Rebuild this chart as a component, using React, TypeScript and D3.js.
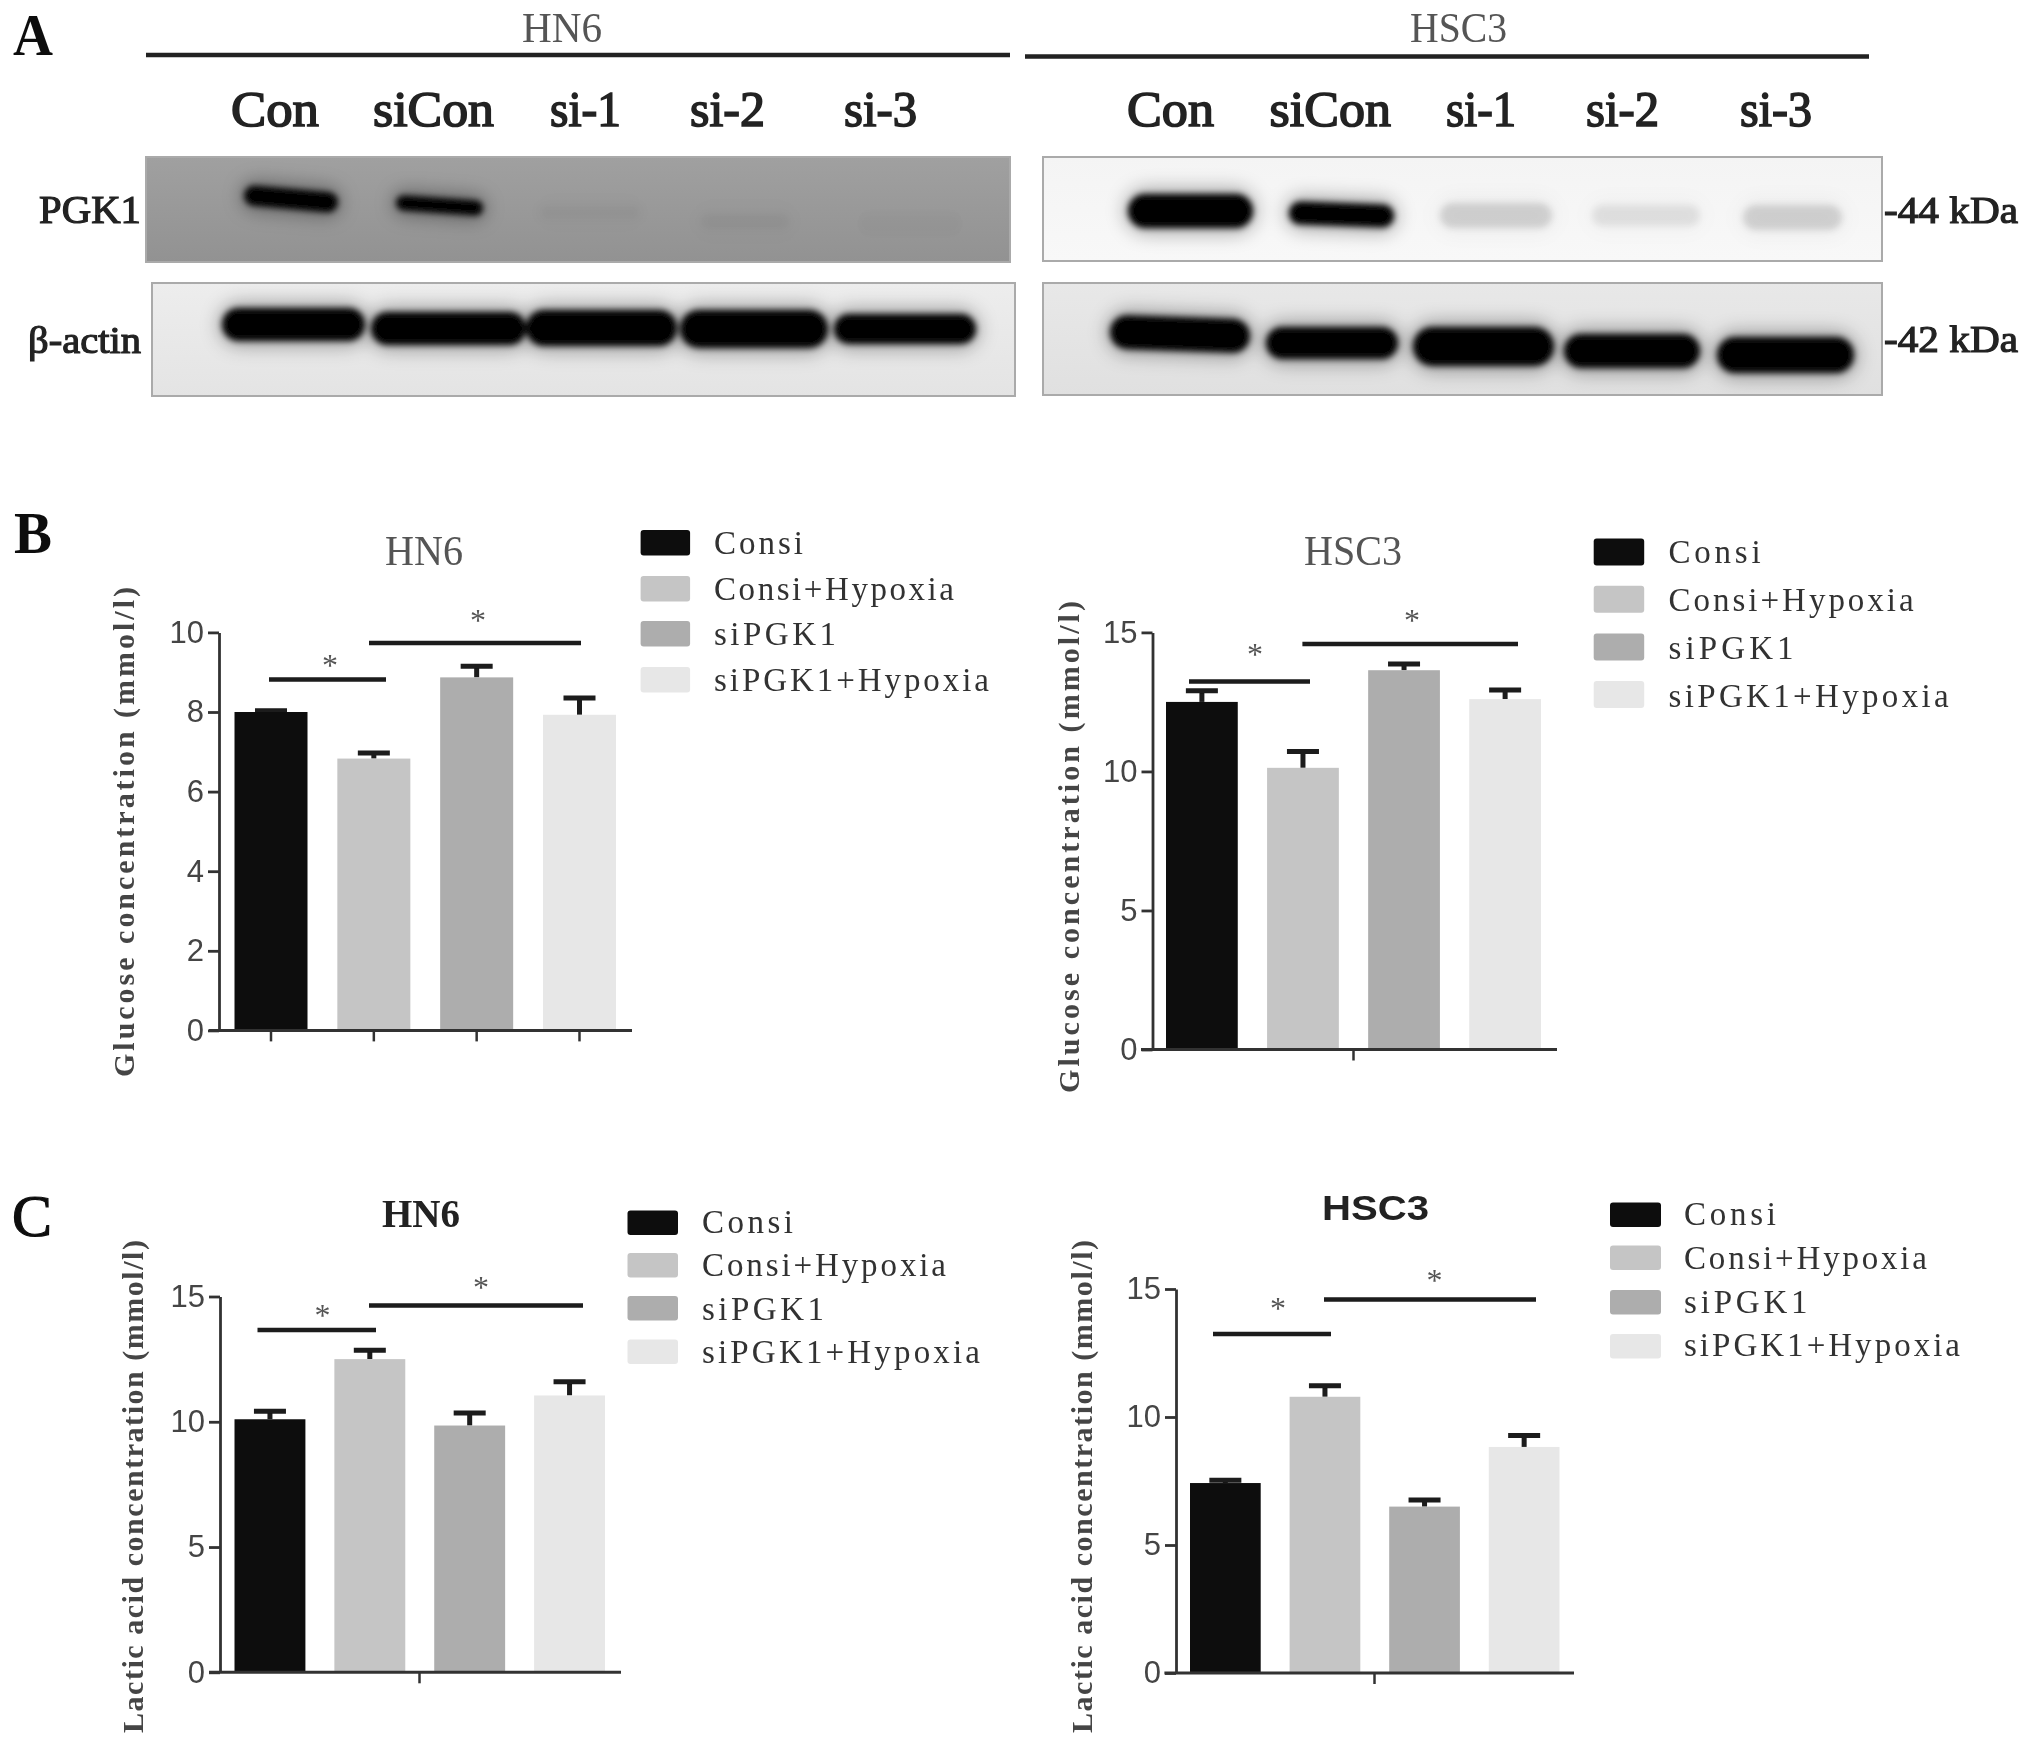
import React, { useEffect, useRef } from 'react';
import * as d3 from 'd3';

const groups = ['Consi', 'Consi+Hypoxia', 'siPGK1', 'siPGK1+Hypoxia'];
const barFills = ['#0e0e0e', '#c5c5c5', '#adadad', '#e7e7e7'];
const lanes = ['Con', 'siCon', 'si-1', 'si-2', 'si-3'];

const glucoseHN6 = [8.0, 6.83, 8.87, 7.93];
const glucoseHN6Upper = [8.03, 6.97, 9.15, 8.35];
const glucoseHSC3 = [12.5, 10.13, 13.64, 12.6];
const glucoseHSC3Upper = [12.9, 10.72, 13.86, 12.93];
const lacticHN6 = [10.1, 12.5, 9.85, 11.05];
const lacticHN6Upper = [10.42, 12.85, 10.35, 11.6];
const lacticHSC3 = [7.42, 10.79, 6.5, 8.83];
const lacticHSC3Upper = [7.53, 11.22, 6.76, 9.28];

const ticks10 = [0, 2, 4, 6, 8, 10];
const ticks15 = [0, 5, 10, 15];

const densityPGK1HN6 = [1, 1, 0.03, 0.035, 0.015];
const densityPGK1HSC3 = [1, 1, 0.13, 0.08, 0.13];
const densityActinHN6 = [1, 1, 1, 1, 1];
const densityActinHSC3 = [1, 1, 1, 1, 1];

const SERIF = '"Liberation Serif", serif';
const SANS = '"Liberation Sans", sans-serif';
const NARROW = '"Liberation Sans Narrow", "Liberation Sans", sans-serif';

type TP = { x: number; y: number; w?: number; size: number; fill?: string; bold?: boolean; semi?: number; spacing?: boolean; font?: string; rot?: boolean; children: string };
function T({ x, y, w, size, fill = '#222', bold, semi, spacing, font = SERIF, rot, children }: TP) {
  return (
    <text x={x} y={y} fontSize={size} fill={fill} fontFamily={font} fontWeight={bold ? 700 : 400}
      stroke={semi ? fill : undefined} strokeWidth={semi}
      textLength={w} lengthAdjust={w ? (spacing ? 'spacing' : 'spacingAndGlyphs') : undefined}
      transform={rot ? `rotate(-90 ${x} ${y})` : undefined}>{children}</text>
  );
}

type Panel = {
  values: number[]; upper: number[]; ticks: number[]; max: number;
  axisX: number; yTop: number; y0: number; lineX: [number, number];
  barRange: [number, number]; tickXs: number | null;
  title: string; titleX: number; titleY: number; titleW: number; titleSize: number; titleFill: string; titleBold?: boolean; titleFont?: string;
  yLabel: string; yLabelX: number; yLabelBottom: number; yLabelLen: number;
  legendSwatchX: number; legendSwatchW: number; legendY: number[]; legendH: number; legendTextX: number; legendBase: number[]; legendW: number[];
  sig: [number, number, number, number, number][];
};

const panels: Panel[] = [
  {
    values: glucoseHN6, upper: glucoseHN6Upper, ticks: ticks10, max: 10,
    axisX: 219, yTop: 632.4, y0: 1030.4, lineX: [209, 632], barRange: [234.5, 616], tickXs: null,
    title: 'HN6', titleX: 385, titleY: 565, titleW: 78, titleSize: 43, titleFill: '#555',
    yLabel: 'Glucose concentration (mmol/l)', yLabelX: 134, yLabelBottom: 1077, yLabelLen: 490,
    legendSwatchX: 640.6, legendSwatchW: 49.5, legendY: [530, 576, 621, 667], legendH: 25.5, legendTextX: 714,
    legendBase: [554, 600, 645, 691], legendW: [89, 240, 122, 275],
    sig: [[269, 386, 679.4, 330, 661.5], [369, 581, 643, 478, 617.4]],
  },
  {
    values: glucoseHSC3, upper: glucoseHSC3Upper, ticks: ticks15, max: 15,
    axisX: 1152.5, yTop: 632.4, y0: 1049.5, lineX: [1141, 1557], barRange: [1166, 1541], tickXs: 1353,
    title: 'HSC3', titleX: 1304, titleY: 565, titleW: 98, titleSize: 43, titleFill: '#555',
    yLabel: 'Glucose concentration (mmol/l)', yLabelX: 1079, yLabelBottom: 1093, yLabelLen: 492,
    legendSwatchX: 1593.7, legendSwatchW: 50.5, legendY: [538.6, 585.7, 633.5, 681], legendH: 27, legendTextX: 1668.6,
    legendBase: [563, 611, 659, 707], legendW: [92, 245, 125, 280],
    sig: [[1189, 1310, 681.4, 1255, 650.7], [1302.4, 1518, 644, 1412, 617]],
  },
  {
    values: lacticHN6, upper: lacticHN6Upper, ticks: ticks15, max: 15,
    axisX: 220, yTop: 1296.5, y0: 1672.3, lineX: [209, 621], barRange: [234.5, 605], tickXs: 419,
    title: 'HN6', titleX: 382, titleY: 1227, titleW: 78, titleSize: 40, titleFill: '#222', titleBold: true,
    yLabel: 'Lactic acid concentration (mmol/l)', yLabelX: 143, yLabelBottom: 1733, yLabelLen: 493,
    legendSwatchX: 627.5, legendSwatchW: 50.5, legendY: [1210.5, 1253, 1296, 1339.5], legendH: 24.5, legendTextX: 702,
    legendBase: [1232.5, 1276, 1319.5, 1362.7], legendW: [91, 244, 122, 278],
    sig: [[257.5, 376, 1330, 322.6, 1312], [369, 583, 1305.5, 481, 1283.5]],
  },
  {
    values: lacticHSC3, upper: lacticHSC3Upper, ticks: ticks15, max: 15,
    axisX: 1176, yTop: 1289, y0: 1673, lineX: [1164.4, 1574], barRange: [1190, 1559.5], tickXs: 1374,
    title: 'HSC3', titleX: 1322, titleY: 1220, titleW: 107, titleSize: 35, titleFill: '#222', titleBold: true, titleFont: SANS,
    yLabel: 'Lactic acid concentration (mmol/l)', yLabelX: 1092, yLabelBottom: 1733, yLabelLen: 493,
    legendSwatchX: 1610, legendSwatchW: 51, legendY: [1202.4, 1245.6, 1290, 1334], legendH: 24.5, legendTextX: 1684,
    legendBase: [1225, 1268.7, 1313, 1356.4], legendW: [92, 243, 123.6, 276],
    sig: [[1213, 1331, 1334, 1278, 1305], [1324, 1536, 1299.5, 1434.6, 1277]],
  },
];

function BarPanel({ p }: { p: Panel }) {
  const yRef = useRef<SVGGElement>(null);
  const xRef = useRef<SVGGElement>(null);
  const y = d3.scaleLinear().domain([0, p.max]).range([p.y0, p.yTop]);
  const x = d3.scaleBand().domain(groups).range(p.barRange).paddingInner(0.29).paddingOuter(0);
  useEffect(() => {
    const ya = d3.select(yRef.current!);
    ya.call(d3.axisLeft(y).tickValues(p.ticks).tickSize(11).tickSizeOuter(0).tickPadding(4) as any);
    ya.selectAll('path,line').attr('stroke', '#333').attr('stroke-width', 2.8);
    ya.selectAll('text').attr('font-family', NARROW).attr('font-size', 31).attr('fill', '#444');
    const xs = p.tickXs === null ? x : d3.scalePoint().domain(['all']).range([p.tickXs, p.tickXs]);
    const xa = d3.select(xRef.current!);
    xa.call(d3.axisBottom(xs as any).tickSize(11).tickSizeOuter(0).tickFormat(() => '') as any);
    xa.select('.domain').remove();
    xa.selectAll('line').attr('stroke', '#333').attr('stroke-width', 2.5);
  }, []);
  const bw = x.bandwidth();
  return (
    <g>
      <T x={p.titleX} y={p.titleY} w={p.titleW} size={p.titleSize} fill={p.titleFill} bold={p.titleBold} font={p.titleFont}>{p.title}</T>
      <T x={p.yLabelX} y={p.yLabelBottom} w={p.yLabelLen} size={30} fill="#444" bold spacing rot>{p.yLabel}</T>
      {groups.map((g, i) => {
        const cx = x(g)! + bw / 2;
        return (
          <g key={g}>
            <line x1={cx} x2={cx} y1={y(p.values[i])} y2={y(p.upper[i])} stroke="#1a1a1a" strokeWidth={5} />
            <line x1={cx - 16} x2={cx + 16} y1={y(p.upper[i])} y2={y(p.upper[i])} stroke="#1a1a1a" strokeWidth={5} />
            <rect x={x(g)} y={y(p.values[i])} width={bw} height={p.y0 - y(p.values[i])} fill={barFills[i]} />
            <rect x={p.legendSwatchX} y={p.legendY[i]} width={p.legendSwatchW} height={p.legendH} rx={3} fill={barFills[i]} />
            <T x={p.legendTextX} y={p.legendBase[i]} w={p.legendW[i]} size={33} fill="#333" spacing>{g}</T>
          </g>
        );
      })}
      <g ref={yRef} transform={`translate(${p.axisX},0)`} />
      <g ref={xRef} transform={`translate(0,${p.y0})`} />
      <line x1={p.lineX[0]} x2={p.lineX[1]} y1={p.y0} y2={p.y0} stroke="#333" strokeWidth={3} />
      {p.sig.map(([a, b, ly, sx, sy], i) => (
        <g key={i}>
          <line x1={a} x2={b} y1={ly} y2={ly} stroke="#1a1a1a" strokeWidth={4.5} />
          <text x={sx} y={sy + 14} fontSize={32} textAnchor="middle" fontFamily={SERIF} fill="#555">*</text>
        </g>
      ))}
    </g>
  );
}

type BlotProps = {
  id: string; x: number; y: number; w: number; h: number; top: string; bottom: string;
  density: number[]; starts: number[]; ends: number[]; tops: number[]; bots: number[]; tilt?: number[];
};
function Blot({ id, x, y, w, h, top, bottom, density, starts, ends, tops, bots, tilt }: BlotProps) {
  return (
    <g>
      <defs>
        <linearGradient id={id} x1="0" y1="0" x2="0" y2="1">
          <stop offset="0" stopColor={top} /><stop offset="1" stopColor={bottom} />
        </linearGradient>
        <clipPath id={`${id}c`}><rect x={x} y={y} width={w} height={h} /></clipPath>
      </defs>
      <rect x={x} y={y} width={w} height={h} fill={`url(#${id})`} />
      <g clipPath={`url(#${id}c)`}>
        <g filter="url(#bandHalo)">
          {lanes.map((l, i) => (
            <rect key={l} x={starts[i] - 4} y={tops[i] - 6} width={ends[i] - starts[i] + 8} height={bots[i] - tops[i] + 12}
              rx={(bots[i] - tops[i]) / 2 + 6} fill="#000" opacity={density[i] * 0.3}
              transform={`rotate(${tilt ? tilt[i] : 0} ${(starts[i] + ends[i]) / 2} ${(tops[i] + bots[i]) / 2})`} />
          ))}
        </g>
        <g filter="url(#bandBlur)">
          {lanes.map((l, i) => (
            <rect key={l} x={starts[i]} y={tops[i]} width={ends[i] - starts[i]} height={bots[i] - tops[i]}
              rx={(bots[i] - tops[i]) / 2} fill="#000" opacity={density[i]}
              transform={`rotate(${tilt ? tilt[i] : 0} ${(starts[i] + ends[i]) / 2} ${(tops[i] + bots[i]) / 2})`} />
          ))}
        </g>
      </g>
      <rect x={x} y={y} width={w} height={h} fill="none" stroke="#aaa" strokeWidth={2} />
    </g>
  );
}

const laneLabelsLeft = [[231, 88], [373, 121], [550, 71], [690, 75], [844, 73]];
const laneLabelsRight = [[1127, 87], [1269.5, 121.5], [1446, 70], [1586, 73], [1740, 72]];

export default function App() {
  return (
    <svg width={2031} height={1748} viewBox="0 0 2031 1748"
      style={{ position: 'absolute', left: 0, top: 0, display: 'block', background: '#fff' }}>
      <defs>
        <filter id="bandBlur" x="-20%" y="-80%" width="140%" height="260%"><feGaussianBlur stdDeviation="3.2" /></filter>
        <filter id="bandHalo" x="-20%" y="-80%" width="140%" height="260%"><feGaussianBlur stdDeviation="9" /></filter>
        <filter id="soft" filterUnits="userSpaceOnUse" x="0" y="0" width="2031" height="1748">
          <feGaussianBlur stdDeviation="0.6" />
        </filter>
      </defs>
      <g filter="url(#soft)">
        <rect x={0} y={0} width={2031} height={1748} fill="#fff" />
        <T x={13} y={55} w={40} size={60} fill="#111" bold>A</T>
        <T x={14} y={553} w={38} size={60} fill="#111" bold>B</T>
        <T x={12} y={1236} w={40} size={60} fill="#111" semi={1.2}>C</T>

        <T x={522} y={42} w={80} size={43} fill="#555">HN6</T>
        <T x={1410} y={42} w={97} size={43} fill="#555">HSC3</T>
        <line x1={146} x2={1010} y1={55} y2={55} stroke="#222" strokeWidth={4.5} />
        <line x1={1025} x2={1869} y1={56.5} y2={56.5} stroke="#222" strokeWidth={4.5} />

        {lanes.map((l, i) => (
          <g key={l}>
            <T x={laneLabelsLeft[i][0]} y={126} w={laneLabelsLeft[i][1]} size={50} fill="#222" semi={1.6}>{l}</T>
            <T x={laneLabelsRight[i][0]} y={126} w={laneLabelsRight[i][1]} size={50} fill="#222" semi={1.6}>{l}</T>
          </g>
        ))}

        <T x={39} y={223} w={102} size={40} fill="#222" semi={1.2}>PGK1</T>
        <T x={28} y={353} w={113} size={38} fill="#222" semi={1.2}>β-actin</T>
        <T x={1884} y={223} w={134} size={38} fill="#222" semi={1.2}>-44 kDa</T>
        <T x={1884} y={352} w={134} size={38} fill="#222" semi={1.2}>-42 kDa</T>

        <Blot id="g1" x={146} y={157} w={864} h={105} top="#a0a0a0" bottom="#929292" density={densityPGK1HN6}
          starts={[244, 396, 540, 700, 860]} ends={[338, 483, 640, 790, 960]} tops={[189, 198, 205, 213, 215]} bots={[209, 213, 220, 230, 232]} tilt={[5, 4, 0, 0, 0]} />
        <Blot id="g2" x={152} y={283} w={863} h={113} top="#ededed" bottom="#e4e4e4" density={densityActinHN6}
          starts={[222, 371, 526, 680, 834]} ends={[365, 526, 677, 828, 976]} tops={[308, 312, 310, 310, 314]} bots={[341, 345, 346, 348, 344]} />
        <Blot id="g3" x={1043} y={157} w={839} h={104} top="#f4f4f4" bottom="#f8f8f8" density={densityPGK1HSC3}
          starts={[1128, 1289, 1440, 1592, 1743]} ends={[1253, 1394, 1552, 1700, 1842]} tops={[194, 203, 203, 205, 205]} bots={[228, 226, 228, 226, 230]} tilt={[0, 2, 0, 0, 0]} />
        <Blot id="g4" x={1043} y={283} w={839} h={112} top="#e8e8e8" bottom="#e0e0e0" density={densityActinHSC3}
          starts={[1110, 1266, 1413, 1564, 1717]} ends={[1250, 1398, 1554, 1700, 1854]} tops={[317, 327, 327, 334, 337]} bots={[351, 359, 366, 368, 373]} tilt={[2, 0, 0, 0, 0]} />

        {panels.map((p, i) => <BarPanel key={i} p={p} />)}
      </g>
    </svg>
  );
}
